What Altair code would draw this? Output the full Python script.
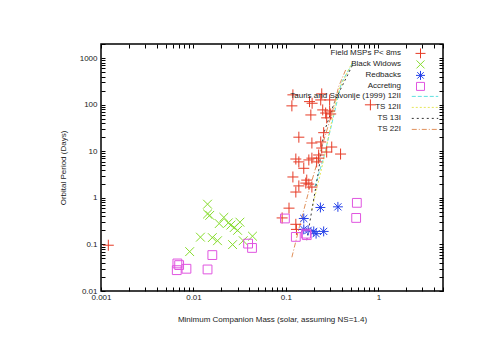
import altair as alt
import pandas as pd

# ---------------- data ----------------
msp_mass = [0.0012, 0.119, 0.116, 0.180, 0.192, 0.244, 0.238, 0.297, 0.186, 0.25,
            0.269, 0.297, 0.305, 0.276, 0.82, 0.138, 0.256, 0.191, 0.238, 0.244,
            0.313, 0.39, 0.226, 0.276, 0.128, 0.138, 0.177, 0.191, 0.215, 0.226,
            0.156, 0.119, 0.168, 0.164, 0.177, 0.138, 0.191, 0.128, 0.108, 0.091,
            0.128, 0.13]
msp_pb = [0.096, 162, 94, 116, 107, 170, 126, 126, 60, 77,
          66, 73, 63, 52, 99, 20, 25, 15, 15.8, 11.7,
          12.3, 8.7, 8.3, 9.6, 6.8, 5.9, 6.5, 7.1, 5.9, 7.1,
          4.3, 2.8, 2.4, 2.07, 1.97, 1.8, 1.7, 1.33, 0.6, 0.37,
          0.27, 0.21]

bw_mass = [0.0142, 0.0142, 0.015, 0.0213, 0.019, 0.0238, 0.0254, 0.0276, 0.0318,
           0.030, 0.0119, 0.016, 0.0182, 0.0265, 0.0345, 0.0435, 0.0091]
bw_pb = [0.73, 0.45, 0.42, 0.38, 0.28, 0.29, 0.26, 0.23, 0.30,
         0.20, 0.143, 0.14, 0.12, 0.099, 0.12, 0.15, 0.07]

rb_mass = [0.156, 0.236, 0.365, 0.156, 0.174, 0.20, 0.212, 0.256]
rb_pb = [0.36, 0.62, 0.64, 0.21, 0.20, 0.19, 0.17, 0.19]

acc_mass = [0.0067, 0.0070, 0.0066, 0.0084, 0.0142, 0.016, 0.039, 0.043,
            0.0975, 0.128, 0.168, 0.165, 0.585, 0.575]
acc_pb = [0.039, 0.036, 0.028, 0.030, 0.029, 0.059, 0.104, 0.084,
          0.36, 0.145, 0.158, 0.17, 0.78, 0.37]

ts99_mass = [0.205, 0.26, 0.33, 0.40, 0.53]
ts99_pb = [1.7, 8.0, 60, 300, 800]
ts12_mass = [0.19, 0.256, 0.31, 0.37, 0.52]
ts12_pb = [0.55, 6.5, 40, 200, 800]
ts13_mass = [0.168, 0.226, 0.256, 0.342, 0.54]
ts13_pb = [0.123, 3.9, 24, 126, 790]
ts22_mass = [0.116, 0.14, 0.174, 0.245, 0.315, 0.372, 0.45]
ts22_pb = [0.053, 0.24, 1.24, 12.5, 65, 244, 600]

point_series = ["Field MSPs P< 8ms", "Black Widows", "Redbacks", "Accreting"]
point_colors = ["#e63b26", "#86dc2c", "#2440e8", "#e055e0"]
point_shapes = ["M-1,0L1,0M0,-1L0,1",
                "M-0.8,-0.8L0.8,0.8M-0.8,0.8L0.8,-0.8",
                "M-0.9,0L0.9,0M0,-0.9L0,0.9M-0.65,-0.65L0.65,0.65M-0.65,0.65L0.65,-0.65",
                "M-0.8,-0.8H0.8V0.8H-0.8Z"]

line_series = ["Tauris and Savonije (1999) 12II", "TS 12II", "TS 13I", "TS 22I"]
line_colors = ["#5ee0e0", "#e6e65a", "#333333", "#e0905a"]
line_dashes = [[4, 2], [2, 2], [2, 3], [5, 2, 1, 2]]

x_ticks = [m * 10 ** e for e in range(-3, 1) for m in range(1, 10)] + [2, 3, 4, 5]
y_ticks = [m * 10 ** e for e in range(-2, 3) for m in range(1, 10)] + [1000, 2000]

# ---------------- tables ----------------
pts = pd.concat([
    pd.DataFrame({"mass": msp_mass, "pb": msp_pb, "series": point_series[0]}),
    pd.DataFrame({"mass": bw_mass, "pb": bw_pb, "series": point_series[1]}),
    pd.DataFrame({"mass": rb_mass, "pb": rb_pb, "series": point_series[2]}),
    pd.DataFrame({"mass": acc_mass, "pb": acc_pb, "series": point_series[3]}),
], ignore_index=True)

lines = pd.concat([
    pd.DataFrame({"mass": ts99_mass, "pb": ts99_pb, "model": line_series[0], "i": range(len(ts99_mass))}),
    pd.DataFrame({"mass": ts12_mass, "pb": ts12_pb, "model": line_series[1], "i": range(len(ts12_mass))}),
    pd.DataFrame({"mass": ts13_mass, "pb": ts13_pb, "model": line_series[2], "i": range(len(ts13_mass))}),
    pd.DataFrame({"mass": ts22_mass, "pb": ts22_pb, "model": line_series[3], "i": range(len(ts22_mass))}),
], ignore_index=True)

FONT = "Liberation Sans"
xscale = alt.Scale(type="log", domain=[0.001, 5], nice=False)
yscale = alt.Scale(type="log", domain=[0.01, 2000], nice=False)
decade_label = "abs(log(datum.value)/LN10 - round(log(datum.value)/LN10)) < 1e-6 ? format(datum.value, '~g') : ''"

legend_common = dict(
    orient="none", title=None, labelFont=FONT, labelFontSize=8,
    labelColor="#222", rowPadding=0, clipHeight=10.8,
    labelAlign="right", labelOffset=0, symbolOffset=0, labelLimit=300,
)
# symbol-only legends (labels blank)
pt_sym_legend = dict(symbolSize=100, symbolStrokeWidth=1, labelExpr="''",
                     legendX=314, legendY=4, **legend_common)
ln_sym_legend = dict(symbolType="stroke", symbolSize=700, symbolStrokeWidth=1,
                     labelExpr="''", legendX=310, legendY=47, **legend_common)
# label-only legends (symbols invisible), right-aligned left of the symbols
pt_lab_legend = dict(symbolSize=4, symbolOpacity=0, symbolStrokeWidth=1,
                     legendX=292, legendY=4, **legend_common)
ln_lab_legend = dict(symbolSize=4, symbolOpacity=0, symbolStrokeWidth=1,
                     legendX=292, legendY=47, **legend_common)

points = alt.Chart(pts).mark_point(strokeWidth=1, filled=False, size=121, opacity=1).encode(
    x=alt.X("mass:Q", scale=xscale,
            axis=alt.Axis(values=x_ticks, labelExpr=decade_label, orient="bottom",
                          title="Minimum Companion Mass (solar, assuming NS=1.4)",
                          offset=-4, tickSize=4, domain=False, grid=False,
                          labelPadding=2, titlePadding=14, labelFlush=False)),
    y=alt.Y("pb:Q", scale=yscale,
            axis=alt.Axis(values=y_ticks, labelExpr=decade_label, orient="left",
                          title="Orbital Period (Days)", offset=-4, tickSize=4,
                          domain=False, grid=False, labelPadding=4, titlePadding=12)),
    color=alt.Color("series:N", scale=alt.Scale(domain=point_series, range=point_colors),
                    legend=alt.Legend(**pt_sym_legend)),
    shape=alt.Shape("series:N", scale=alt.Scale(domain=point_series, range=point_shapes),
                    legend=alt.Legend(**pt_sym_legend)),
)

point_labels = alt.Chart(pts).mark_point(opacity=0).encode(
    x=alt.X("mass:Q", scale=xscale, axis=None),
    y=alt.Y("pb:Q", scale=yscale, axis=None),
    color=alt.Color("series:N", scale=alt.Scale(domain=point_series, range=point_colors),
                    legend=alt.Legend(**pt_lab_legend)),
)

curves = alt.Chart(lines).mark_line(strokeWidth=1).encode(
    x=alt.X("mass:Q", scale=xscale,
            axis=alt.Axis(values=x_ticks, orient="top", labels=False, title=None,
                          offset=-4, tickSize=4, domain=False, grid=False)),
    y=alt.Y("pb:Q", scale=yscale,
            axis=alt.Axis(values=y_ticks, orient="right", labels=False, title=None,
                          offset=-4, tickSize=4, domain=False, grid=False)),
    order="i:Q",
    color=alt.Color("model:N", scale=alt.Scale(domain=line_series, range=line_colors),
                    legend=alt.Legend(**ln_sym_legend)),
    strokeDash=alt.StrokeDash("model:N", scale=alt.Scale(domain=line_series, range=line_dashes),
                              legend=alt.Legend(**ln_sym_legend)),
)

curve_labels = alt.Chart(lines).mark_point(opacity=0).encode(
    x=alt.X("mass:Q", scale=xscale, axis=None),
    y=alt.Y("pb:Q", scale=yscale, axis=None),
    color=alt.Color("model:N", scale=alt.Scale(domain=line_series, range=line_colors),
                    legend=alt.Legend(**ln_lab_legend)),
)

chart = alt.layer(curves, points, point_labels, curve_labels).resolve_scale(
    color="independent", shape="independent", strokeDash="independent"
).resolve_axis(x="independent", y="independent").properties(
    width=342, height=247,
    autosize=alt.AutoSizeParams(type="none"),
    padding={"left": 93, "top": 36, "right": 50, "bottom": 56},
    background="white",
).configure_view(stroke="black", strokeWidth=1.5).configure_axis(
    labelFont=FONT, labelFontSize=8, labelColor="#222", titleFont=FONT,
    titleFontSize=8, titleFontWeight="normal", titleColor="#222",
    tickColor="black", tickWidth=1,
)

chart.save("out.html", embed_options={"renderer": "svg", "actions": False})
